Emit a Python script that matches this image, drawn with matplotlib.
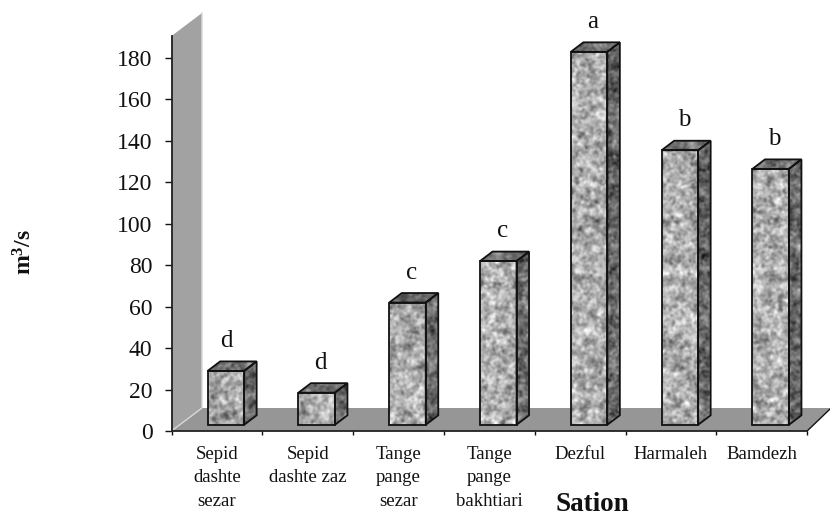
import numpy as np
import matplotlib
matplotlib.use('Agg')
import matplotlib.pyplot as plt
from matplotlib.patches import Polygon

plt.rcParams['font.family'] = ['Liberation Serif', 'DejaVu Serif']
plt.rcParams['mathtext.fontset'] = 'custom'
plt.rcParams['mathtext.bf'] = 'Liberation Serif:bold'
plt.rcParams['mathtext.rm'] = 'Liberation Serif'

# Data
stations = ['Sepid\ndashte\nsezar', 'Sepid\ndashte zaz', 'Tange\npange\nsezar',
            'Tange\npange\nbakhtiari', 'Dezful', 'Harmaleh', 'Bamdezh']
flow = [26, 15.5, 59, 79, 180, 132.5, 123.5]
letters = ['d', 'd', 'c', 'c', 'a', 'b', 'b']
y_ticks = [0, 20, 40, 60, 80, 100, 120, 140, 160, 180]

# Pixel scale of the axes (830x517 figure)
PX_X = 90.8
PX_Y = 2.072
W, H = 830, 517


def speckle(h, w, seed, mean, spread):
    # granite fill for the bar faces, only a texture and not data
    rng = np.random.RandomState(seed)
    fy = np.fft.fftfreq(h)[:, None]
    fx = np.fft.rfftfreq(w)[None, :]
    r2 = fx ** 2 + fy ** 2
    out = np.zeros((h, w))
    for sigma, amp in [(1.1, 1.0), (2.6, 0.9)]:
        n = np.fft.irfft2(np.fft.rfft2(rng.randn(h, w)) * np.exp(-2 * (np.pi * sigma) ** 2 * r2), s=(h, w))
        out += amp * n / n.std()
    return np.clip(mean + spread * out / out.std(), 0, 1)


def textured_face(ax, pts, seed, mean, spread):
    pts = np.array(pts)
    x0, x1 = pts[:, 0].min(), pts[:, 0].max()
    y0, y1 = pts[:, 1].min(), pts[:, 1].max()
    h = max(int((y1 - y0) * PX_Y) + 2, 4)
    w = max(int((x1 - x0) * PX_X) + 2, 4)
    im = ax.imshow(speckle(h, w, seed, mean, spread), cmap='gray', vmin=0, vmax=1,
                   extent=(x0, x1, y0, y1), aspect='auto', interpolation='bilinear', zorder=4)
    edge = Polygon(pts, closed=True, fill=False, ec='#111111', lw=1.3, zorder=5, clip_on=False)
    ax.add_patch(edge)
    clip = Polygon(pts, closed=True, transform=ax.transData)
    im.set_clip_path(clip)


fig = plt.figure(figsize=(8.3, 5.17), dpi=100)
ax = fig.add_axes([171.5 / W, (H - 431) / H, 635.6 / W, 395 / H])
ax.set_xlim(0, 7)
ax.set_ylim(0, 395 / PX_Y)
ax.patch.set_alpha(0)

# back wall and floor
wall_dx = 30.5 / PX_X
wall_dy = 23 / PX_Y
top = 395 / PX_Y
right = 7 + 24 / PX_X
ax.add_patch(Polygon([(0, 0), (wall_dx, wall_dy), (wall_dx, top + wall_dy), (0, top)],
                     fc='#a2a2a2', ec='none', clip_on=False, zorder=1))
ax.add_patch(Polygon([(0, 0), (wall_dx, wall_dy), (right, wall_dy), (7, 0)],
                     fc='#969696', ec='none', clip_on=False, zorder=1))
ax.plot([0, wall_dx, wall_dx], [0, wall_dy, top + wall_dy], color='#d8d8d8', lw=1, clip_on=False, zorder=2)
ax.plot([7, right], [0, wall_dy], color='#111111', lw=1, clip_on=False, zorder=2)

# bars
bar_w = 36.5 / PX_X
base = 3
side_dx = 12.5 / PX_X
side_dy = 9.5 / PX_Y
for i, v in enumerate(flow):
    x0 = i + 0.5 + 9 / PX_X - bar_w / 2
    x1 = x0 + bar_w
    t = base + v
    textured_face(ax, [(x0, base), (x1, base), (x1, t), (x0, t)], 10 + i, 0.68, 0.10)
    textured_face(ax, [(x1, base), (x1 + side_dx, base + side_dy), (x1 + side_dx, t + side_dy), (x1, t)],
                  30 + i, 0.40, 0.09)
    textured_face(ax, [(x0, t), (x1, t), (x1 + side_dx, t + side_dy), (x0 + side_dx, t + side_dy)],
                  50 + i, 0.45, 0.07)
    nudge = 0 if i == 0 else 4
    ax.text((x0 + x1) / 2 + nudge / PX_X, t + 24 / PX_Y, letters[i], ha='center', va='baseline',
            fontsize=18, color='#111111', clip_on=False)

ax.set_xlim(0, 7)
ax.set_ylim(0, 395 / PX_Y)

for s in ['top', 'right']:
    ax.spines[s].set_visible(False)
for s in ['left', 'bottom']:
    ax.spines[s].set_linewidth(1.3)
    ax.spines[s].set_color('#222222')
    ax.spines[s].set_zorder(3)

ax.set_yticks(y_ticks)
ax.set_xticks(range(8))
ax.set_xticklabels([])
ax.tick_params(axis='y', length=4.7, width=1, labelsize=17, pad=9, colors='#111111')
ax.tick_params(axis='x', length=3, width=1, colors='#111111')

for i, name in enumerate(stations):
    ax.text(i + 0.5, -7.2, name, ha='center', va='top', fontsize=13.5, linespacing=1.5,
            color='#111111', clip_on=False)

fig.text(592 / W, (H - 511) / H, 'Sation', ha='center', va='baseline', fontsize=19.5, fontweight='bold', color='#111111')
fig.text(25 / W, (H - 252) / H, r'$\mathbf{m^3/s}$', ha='center', va='center', rotation=90, fontsize=17, color='#111111')

fig.savefig('out.png', dpi=100)
